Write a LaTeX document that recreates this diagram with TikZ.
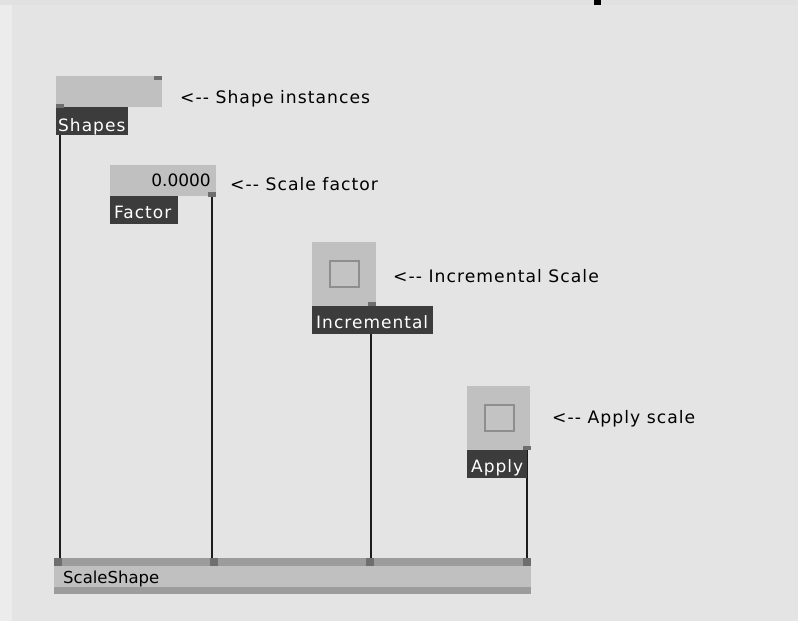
\documentclass[tikz,border=0pt]{standalone}
\usepackage{fontspec}
\setmainfont{DejaVu Sans}
\newfontfamily\tagfont[LetterSpace=6]{DejaVu Sans}
\newfontfamily\bodyfont{DejaVu Sans}

\definecolor{canvas}{HTML}{E4E4E4}
\definecolor{sidestrip}{HTML}{ECECEC}
\definecolor{topstrip}{HTML}{E1E1E1}
\definecolor{objgray}{HTML}{C0C0C0}
\definecolor{tagdark}{HTML}{3C3C3C}
\definecolor{portgray}{HTML}{6E6E6E}
\definecolor{bandgray}{HTML}{9C9C9C}
\definecolor{togglerim}{HTML}{8E8E8E}
\definecolor{wirecol}{HTML}{1C1C1C}

\pgfdeclarelayer{backdrop}
\pgfdeclarelayer{wires}
\pgfsetlayers{backdrop,wires,main}

\tikzset{
  objbox/.style={fill=objgray, draw=none, inner sep=0pt, anchor=north west},
  tagbox/.style={fill=tagdark, draw=none, inner sep=0pt, anchor=north west},
  tagtext/.style={text=white, font=\tagfont\fontsize{17}{19}\selectfont, inner sep=0pt, anchor=base west},
  note/.style={text=black, font=\tagfont\fontsize{17.2}{19}\selectfont, inner sep=0pt, anchor=base west},
  port/.style={fill=portgray, draw=none, inner sep=0pt, minimum width=8pt, minimum height=4pt, anchor=north west},
  inlet/.style={fill=portgray, draw=none, inner sep=0pt, minimum width=8pt, minimum height=8pt, anchor=north west},
  toggle/.style={draw=togglerim, line width=1.5pt, fill=objgray!95!white, inner sep=0pt, minimum width=29pt, minimum height=26pt, anchor=north west},
  wire/.style={draw=wirecol, line width=2pt},
}

\begin{document}
\begin{tikzpicture}[x=1pt,y=-1pt]

% canvas
\begin{pgfonlayer}{backdrop}
  \fill[canvas] (0,0) rectangle (798,621);
  \fill[sidestrip] (0,0) rectangle (12,621);
  \fill[topstrip] (0,0) rectangle (798,5);
  \fill[black] (594,0) rectangle (601,5);
\end{pgfonlayer}
\path[use as bounding box] (0,0) rectangle (798,621);

% Shapes object
\node[objbox, minimum width=106pt, minimum height=31pt] (shapesBox) at (56,76) {};
\node[port] (shapesOut) at (154,76) {};
\node[tagbox, minimum width=72pt, minimum height=28pt] (shapesTag) at (56,107) {};
\node[port] (shapesPort) at (56,104) {};
\node[tagtext] (shapesText) at (58,131) {Shapes};
\node[note] (shapesNote) at (180,103) {<-{}- Shape instances};

% Factor object
\node[objbox, minimum width=106pt, minimum height=31pt] (factorBox) at (110,165) {};
\node[text=black, font=\bodyfont\fontsize{17}{19}\selectfont, inner sep=0pt, anchor=base east] (factorValue) at (211,186) {0.0000};
\node[tagbox, minimum width=68pt, minimum height=28pt] (factorTag) at (110,196) {};
\node[tagtext] (factorText) at (114,218) {Factor};
\node[port, minimum height=5pt] (factorPort) at (208,192) {};
\node[note] (factorNote) at (230,190) {<-{}- Scale factor};

% Incremental toggle
\node[objbox, minimum width=64pt, minimum height=64pt] (incrBox) at (312,242) {};
\node[toggle] (incrToggle) at (329,260) {};
\node[tagbox, minimum width=121pt, minimum height=28pt] (incrTag) at (312,306) {};
\node[port] (incrPort) at (368,302) {};
\node[tagtext] (incrText) at (316,328) {Incremental};
\node[note] (incrNote) at (393,282) {<-{}- Incremental Scale};

% Apply toggle
\node[objbox, minimum width=63pt, minimum height=64pt] (applyBox) at (467,386) {};
\node[toggle] (applyToggle) at (484,404) {};
\node[tagbox, minimum width=60pt, minimum height=28pt] (applyTag) at (467,450) {};
\node[port] (applyPort) at (523,446) {};
\node[tagtext] (applyText) at (471,472) {Apply};
\node[note] (applyNote) at (552,423) {<-{}- Apply scale};

% ScaleShape object
\node[objbox, minimum width=477pt, minimum height=36pt] (scaleBox) at (54,558) {};
\fill[bandgray] (scaleBox.north west) rectangle ([yshift=-8pt]scaleBox.north east);
\fill[bandgray] ([yshift=7pt]scaleBox.south west) rectangle (scaleBox.south east);
\node[inlet] (inA) at (54,558) {};
\node[inlet] (inB) at (210,558) {};
\node[inlet] (inC) at (366,558) {};
\node[inlet] (inD) at (523,558) {};
\node[text=black, font=\bodyfont\fontsize{16.5}{18}\selectfont, inner sep=0pt, anchor=base west] (scaleText) at (63,583) {ScaleShape};

% connections
\begin{pgfonlayer}{wires}
  \draw[wire] ([xshift=-0.5pt]shapesPort.south) -- ([xshift=-0.5pt]shapesPort.south |- inA.north);
  \draw[wire] (factorPort.south) -- (factorPort.south |- inB.north);
  \draw[wire] ([xshift=-1pt]incrPort.south) -- ([xshift=-1pt]incrPort.south |- inC.north);
  \draw[wire] (applyPort.south) -- (applyPort.south |- inD.north);
\end{pgfonlayer}

\end{tikzpicture}
\end{document}
